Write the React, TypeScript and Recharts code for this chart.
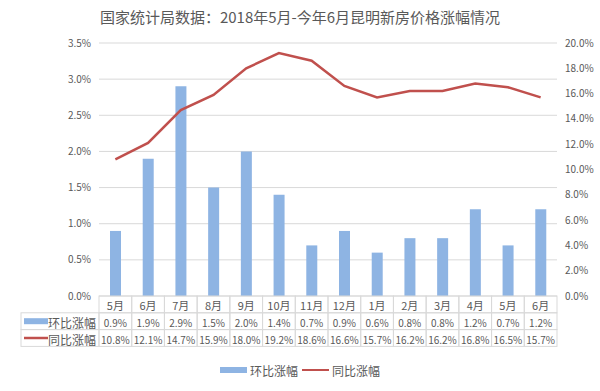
import React from 'react';
import {
  ComposedChart,
  Bar,
  Line,
  XAxis,
  YAxis,
  CartesianGrid,
  Legend,
} from 'recharts';

// data
const months = ['5月', '6月', '7月', '8月', '9月', '10月', '11月', '12月', '1月', '2月', '3月', '4月', '5月', '6月'];
const momRise = [0.9, 1.9, 2.9, 1.5, 2.0, 1.4, 0.7, 0.9, 0.6, 0.8, 0.8, 1.2, 0.7, 1.2];
const yoyRise = [10.8, 12.1, 14.7, 15.9, 18.0, 19.2, 18.6, 16.6, 15.7, 16.2, 16.2, 16.8, 16.5, 15.7];
const leftTicks = [0, 0.5, 1, 1.5, 2, 2.5, 3, 3.5];
const rightTicks = [0, 2, 4, 6, 8, 10, 12, 14, 16, 18, 20];

const TITLE = '国家统计局数据：2018年5月-今年6月昆明新房价格涨幅情况';
const MOM_NAME = '环比涨幅';
const YOY_NAME = '同比涨幅';

const BAR_COLOR = '#8eb4e3';
const LINE_COLOR = '#c0504d';
const TEXT = '#595959';
const GRID = '#d9d9d9';
const FONT = "'Noto Sans CJK SC', 'Noto Sans', sans-serif";

const data = months.map((m, i) => ({ month: m, mom: momRise[i], yoy: yoyRise[i] }));

const ROW_H = 16.8;
const KEY_LEFT = 21;

// x axis drawn as Excel-like data table
const TableTick = (props: any) => {
  const { x, y, payload, index } = props;
  const bw = props.width && props.width > 100 ? props.width / months.length : (payload?.offset ? payload.offset * 2 : 32.7);
  const left = x - bw / 2;
  const i = payload?.index ?? index;
  const rows = [months[i], `${momRise[i].toFixed(1)}%`, `${yoyRise[i].toFixed(1)}%`];
  return (
    <g>
      {rows.map((t, r) => (
        <g key={r}>
          <rect x={left} y={y + r * ROW_H} width={bw} height={ROW_H} fill="none" stroke={GRID} strokeWidth={1} />
          <text
            x={x}
            y={y + r * ROW_H + ROW_H / 2 + 1}
            textAnchor="middle"
            dominantBaseline="central"
            fontSize={r === 0 ? 11 : 10}
            fill={TEXT}
            fontFamily={FONT}
          >
            {t}
          </text>
        </g>
      ))}
      {i === 0 && (
        <g>
          <rect x={KEY_LEFT} y={y + ROW_H} width={left - KEY_LEFT} height={ROW_H} fill="none" stroke={GRID} />
          <rect x={KEY_LEFT} y={y + 2 * ROW_H} width={left - KEY_LEFT} height={ROW_H} fill="none" stroke={GRID} />
          <rect x={KEY_LEFT + 3} y={y + ROW_H * 1.5 - 3} width={24} height={6} fill={BAR_COLOR} />
          <line x1={KEY_LEFT + 3} x2={KEY_LEFT + 27} y1={y + ROW_H * 2.5} y2={y + ROW_H * 2.5} stroke={LINE_COLOR} strokeWidth={2.5} />
          <text x={left - 3} y={y + ROW_H * 1.5 + 1} textAnchor="end" dominantBaseline="central" fontSize={12} fill={TEXT} fontFamily={FONT}>
            {MOM_NAME}
          </text>
          <text x={left - 3} y={y + ROW_H * 2.5 + 1} textAnchor="end" dominantBaseline="central" fontSize={12} fill={TEXT} fontFamily={FONT}>
            {YOY_NAME}
          </text>
        </g>
      )}
    </g>
  );
};

const LegendContent = () => (
  <div
    style={{
      height: 40,
      display: 'flex',
      justifyContent: 'center',
      alignItems: 'center',
      paddingTop: 6,
      boxSizing: 'border-box',
      fontFamily: FONT,
      fontSize: 12,
      color: TEXT,
    }}
  >
    <span style={{ display: 'inline-block', width: 27, height: 6, background: BAR_COLOR, marginRight: 3 }} />
    <span style={{ marginRight: 4 }}>{MOM_NAME}</span>
    <span style={{ display: 'inline-block', width: 27, height: 2.5, background: LINE_COLOR, marginRight: 3 }} />
    <span>{YOY_NAME}</span>
  </div>
);

export default function App() {
  return (
    <div style={{ position: 'absolute', left: 0, top: 0, width: 600, height: 391, background: '#fff' }}>
      <div
        style={{
          position: 'absolute',
          top: 6,
          left: 0,
          width: 600,
          textAlign: 'center',
          fontFamily: FONT,
          fontSize: 15,
          color: TEXT,
        }}
      >
        {TITLE}
      </div>
      <ComposedChart width={600} height={391} data={data} margin={{ top: 43, right: 0, left: 0, bottom: 4 }}>
        <CartesianGrid yAxisId="left" vertical={false} stroke={GRID} />
        <XAxis
          dataKey="month"
          height={51}
          axisLine={false}
          tickLine={false}
          tickSize={0}
          tickMargin={0}
          interval={0}
          tick={<TableTick />}
        />
        <YAxis
          yAxisId="left"
          width={99}
          domain={[0, 3.5]}
          ticks={leftTicks}
          axisLine={false}
          tickLine={false}
          tick={{ fontSize: 10, fill: TEXT, fontFamily: FONT }}
          tickFormatter={(v) => `${Number(v).toFixed(1)}%`}
        />
        <YAxis
          yAxisId="right"
          orientation="right"
          width={43}
          domain={[0, 20]}
          ticks={rightTicks}
          axisLine={false}
          tickLine={false}
          tick={{ fontSize: 10, fill: TEXT, fontFamily: FONT }}
          tickFormatter={(v) => `${Number(v).toFixed(1)}%`}
        />
        <Legend verticalAlign="bottom" height={40} content={<LegendContent />} />
        <Bar yAxisId="left" dataKey="mom" name={MOM_NAME} fill={BAR_COLOR} barSize={11} isAnimationActive={false} />
        <Line
          yAxisId="right"
          type="linear"
          dataKey="yoy"
          name={YOY_NAME}
          stroke={LINE_COLOR}
          strokeWidth={2.5}
          dot={false}
          isAnimationActive={false}
        />
      </ComposedChart>
    </div>
  );
}
